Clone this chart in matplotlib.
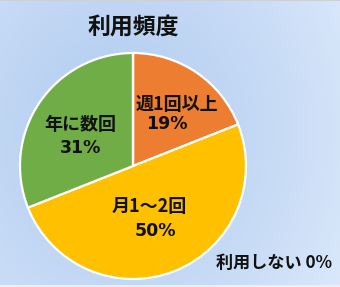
import numpy as np
import matplotlib
matplotlib.use("Agg")
import matplotlib.pyplot as plt

# Usage frequency breakdown
categories = ['週1回以上', '月1～2回', '年に数回', '利用しない']
shares = [19, 50, 31, 0]
colors = ['#ED7D31', '#FFC000', '#70AD47', '#5B9BD5']
title = '利用頻度'

JP = ['Noto Sans CJK JP', 'DejaVu Sans']
NUM = ['DejaVu Sans', 'Noto Sans CJK JP']
plt.rcParams['font.family'] = JP

W, H = 340, 287
fig = plt.figure(figsize=(W / 100, H / 100), dpi=100)

# soft blue radial background
bg = fig.add_axes([0, 0, 1, 1])
bg.set_axis_off()
yy, xx = np.mgrid[0:H, 0:W]
d = np.sqrt(((xx - 115) / 1.0) ** 2 + ((yy - 130) / 1.15) ** 2)
t = np.clip(d / 260.0, 0, 1) ** 1.4
c0 = np.array([180, 206, 241]) / 255.0
c1 = np.array([218, 232, 250]) / 255.0
img = c0[None, None, :] * (1 - t[..., None]) + c1[None, None, :] * t[..., None]
img[0:1, :, :] = np.array([205, 208, 214]) / 255.0
img[-2:, :, :] = np.array([236, 239, 244]) / 255.0
bg.imshow(img, extent=[0, W, 0, H], origin='upper', aspect='auto', interpolation='bilinear')
bg.set_xlim(0, W)
bg.set_ylim(0, H)

# main axes in pixel units (y measured from the bottom)
ax = fig.add_axes([0, 0, 1, 1])
ax.patch.set_alpha(0)
cx, cy, r = 133, H - 166, 113
ax.pie(shares, colors=colors, startangle=90, counterclock=False,
       center=(cx, cy), radius=r,
       wedgeprops=dict(edgecolor='white', linewidth=1.6))
ax.set_xlim(0, W)
ax.set_ylim(0, H)
ax.set_aspect('equal')
ax.set_axis_off()

def put(x, y, s, size, family=JP):
    ax.text(x, H - y, s, ha='center', va='center', fontsize=size,
            fontweight='bold', color='#111111', family=family)

ax.text(133, H - 27, title, ha='center', va='center', fontsize=16.5,
        fontweight='bold', color='#111111')

lab = 13
pct = 12.5
put(177, 104, categories[0], lab)
put(167, 124, f'{shares[0]}%', pct, NUM)
put(149, 206, categories[1], lab)
put(155, 231, f'{shares[1]}%', pct, NUM)
put(80, 125, categories[2], lab)
put(81, 148, f'{shares[2]}%', pct, NUM)
put(274, 263, f'{categories[3]} {shares[3]}%', 12.3)

fig.savefig('out.png', dpi=100)
